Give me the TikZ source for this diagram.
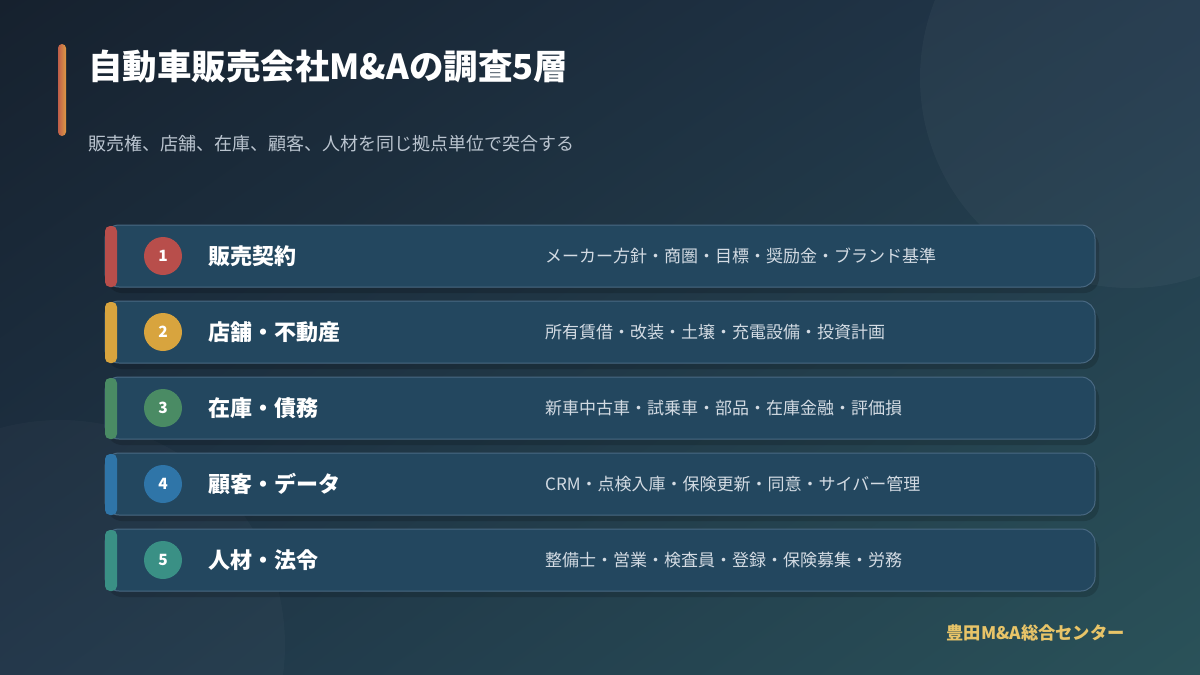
\documentclass[tikz,border=0pt]{standalone}
\usepackage{fontspec}
\setmainfont{Noto Sans CJK JP}
\usetikzlibrary{positioning,shadings}
\definecolor{bgtl}{HTML}{16212E}
\definecolor{bgtr}{HTML}{22384C}
\definecolor{bgbl}{HTML}{1F3447}
\definecolor{bgbr}{HTML}{2A5259}
\definecolor{rowfill}{HTML}{23475F}
\definecolor{rowline}{HTML}{4A6983}
\definecolor{desctext}{HTML}{D3DBE3}
\definecolor{subtext}{HTML}{BAC4CF}
\definecolor{accentL}{HTML}{BF5F4A}
\definecolor{accentR}{HTML}{DE9A44}
\definecolor{footgold}{HTML}{E8C468}
\definecolor{layerA}{HTML}{B84E4B}
\definecolor{layerB}{HTML}{D8A43E}
\definecolor{layerC}{HTML}{4A8B64}
\definecolor{layerD}{HTML}{2F75A8}
\definecolor{layerE}{HTML}{3A9085}
\begin{document}
\begin{tikzpicture}[x=1pt,y=-1pt,
    rowbox/.style={draw=rowline,line width=1pt,fill=rowfill,rounded corners=14pt},
    rowshadow/.style={fill=black,opacity=0.16,rounded corners=15pt},
    numdot/.style={circle,minimum size=38pt,inner sep=0pt,text=white,font=\bfseries\fontsize{15.5}{15.5}\selectfont},
    layertitle/.style={right=26pt of #1,text=white,inner sep=0pt,font=\bfseries\fontsize{22}{22}\selectfont},
    layerdesc/.style={anchor=west,text=desctext,inner sep=0pt,font=\fontsize{17}{17}\selectfont}]
    % background
    \shade[upper left=bgtl,upper right=bgtr,lower left=bgbl,lower right=bgbr] (0,0) rectangle (1200,675);
    \useasboundingbox (0,0) rectangle (1200,675);
    \fill[white,opacity=0.035] (1130,78) circle[radius=210];
    \fill[white,opacity=0.025] (60,645) circle[radius=225];
    % heading
    \shade[left color=accentL,right color=accentR,rounded corners=4pt] (58,44) rectangle (66,136);
    \node[anchor=west,inner sep=0pt,text=white,font=\bfseries\fontsize{34.5}{34.5}\selectfont] (title) at (88,67) {自動車販売会社M\&Aの調査5層};
    \node[anchor=west,inner sep=0pt,text=subtext,font=\fontsize{18}{18}\selectfont] (subtitle) at (88,144) {販売権、店舗、在庫、顧客、人材を同じ拠点単位で突合する};
    % layer 1
    \fill[rowshadow] (107,231) rectangle (1099,293);
    \draw[rowbox] (105,225) rectangle (1095,287);
    \fill[layerA,rounded corners=5pt] (105,226) rectangle (117,287);
    \node[numdot,fill=layerA] (n1) at (163,256) {1};
    \node[layertitle=n1] (t1) {販売契約};
    \node[layerdesc] (d1) at (545,256) {メーカー方針・商圏・目標・奨励金・ブランド基準};
    % layer 2
    \fill[rowshadow] (107,307) rectangle (1099,369);
    \draw[rowbox] (105,301) rectangle (1095,363);
    \fill[layerB,rounded corners=5pt] (105,302) rectangle (117,363);
    \node[numdot,fill=layerB] (n2) at (163,332) {2};
    \node[layertitle=n2] (t2) {店舗・不動産};
    \node[layerdesc] (d2) at (545,332) {所有賃借・改装・土壌・充電設備・投資計画};
    % layer 3
    \fill[rowshadow] (107,383) rectangle (1099,445);
    \draw[rowbox] (105,377) rectangle (1095,439);
    \fill[layerC,rounded corners=5pt] (105,378) rectangle (117,439);
    \node[numdot,fill=layerC] (n3) at (163,408) {3};
    \node[layertitle=n3] (t3) {在庫・債務};
    \node[layerdesc] (d3) at (545,408) {新車中古車・試乗車・部品・在庫金融・評価損};
    % layer 4
    \fill[rowshadow] (107,459) rectangle (1099,521);
    \draw[rowbox] (105,453) rectangle (1095,515);
    \fill[layerD,rounded corners=5pt] (105,454) rectangle (117,515);
    \node[numdot,fill=layerD] (n4) at (163,484) {4};
    \node[layertitle=n4] (t4) {顧客・データ};
    \node[layerdesc] (d4) at (545,484) {CRM・点検入庫・保険更新・同意・サイバー管理};
    % layer 5
    \fill[rowshadow] (107,535) rectangle (1099,597);
    \draw[rowbox] (105,529) rectangle (1095,591);
    \fill[layerE,rounded corners=5pt] (105,530) rectangle (117,591);
    \node[numdot,fill=layerE] (n5) at (163,560) {5};
    \node[layertitle=n5] (t5) {人材・法令};
    \node[layerdesc] (d5) at (545,560) {整備士・営業・検査員・登録・保険募集・労務};
    % footer
    \node[anchor=east,inner sep=0pt,text=footgold,font=\bfseries\fontsize{17.3}{17.3}\selectfont] (footer) at (1125,633) {豊田M\&A総合センター};
\end{tikzpicture}
\end{document}
